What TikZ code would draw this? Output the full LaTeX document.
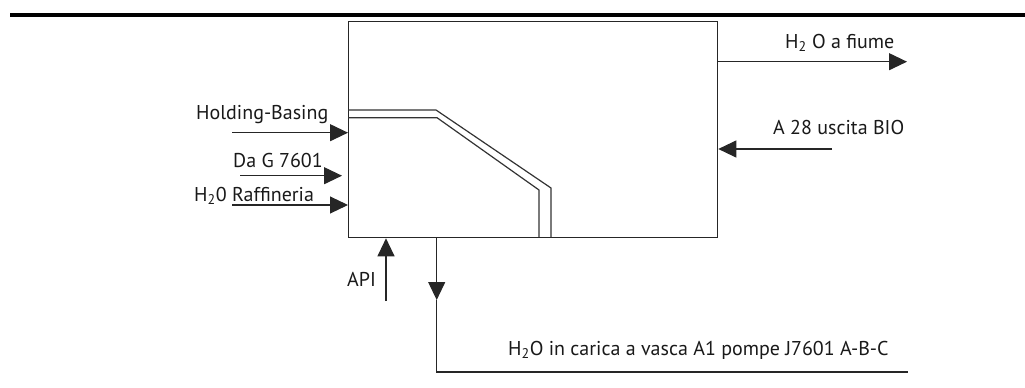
\documentclass[tikz,border=0pt]{standalone}
\usepackage{fontspec}
\setmainfont{PT Sans}
\usetikzlibrary{arrows.meta}
\tikzset{
  ln/.style={line width=1.1pt, draw=black!85},
  arr/.style={ln, -{Triangle[length=18pt,width=17pt]}},
  pipe/.style={line width=1.2pt, draw=black!80},
  lbl/.style={font=\fontsize{20}{22}\selectfont, inner sep=0pt, anchor=base west, text=black!90},
}
\begin{document}
\begin{tikzpicture}[x=1pt,y=-1pt]
\useasboundingbox (0,0) rectangle (1025,388);
% top rule
\coordinate (barL) at (10,15.3);
\coordinate (barR) at (1025,15.3);
\draw[line width=4pt] (barL) -- (barR);
% main box
\node[draw=black!85, line width=1.3pt, minimum width=369pt, minimum height=216pt,
      anchor=north west, inner sep=0pt] (box) at (348,21) {};
% internal double pipe
\coordinate (pa1) at (348,110);
\coordinate (pa2) at (436,110);
\coordinate (pa3) at (551,188);
\coordinate (pa4) at (551,237);
\coordinate (pb1) at (348,117.7);
\coordinate (pb2) at (437,117.7);
\coordinate (pb3) at (539,190);
\coordinate (pb4) at (539,237);
\draw[pipe] (pa1) -- (pa2) -- (pa3) -- (pa4);
\draw[pipe] (pb1) -- (pb2) -- (pb3) -- (pb4);
% left inputs
\coordinate (hbs) at (232,132.7);
\draw[arr] (hbs) -- (hbs -| box.west);
\node[lbl] (hbl) at (196,119) {Holding-Basing};
\coordinate (dgs) at (240,175.7);
\coordinate (dge) at (342,175.7);
\draw[arr] (dgs) -- (dge);
\node[lbl] (dgl) at (233,167) {Da G 7601};
\coordinate (rfs) at (232,205);
\draw[arr] (rfs) -- (rfs -| box.west);
\node[lbl] (rfl) at (194,201) {H\textsubscript{2}0 Raffineria};
% right side
\coordinate (fie) at (907,61.7);
\draw[arr] (fie -| box.east) -- (fie);
\node[lbl] (fil) at (785,48) {H\textsubscript{2} O a fiume};
\coordinate (bios) at (832,149);
\draw[arr] (bios) -- (bios -| box.east);
\node[lbl] (biol) at (773,134) {A 28 uscita BIO};
% bottom
\coordinate (apis) at (386,301);
\draw[arr] (apis) -- (apis |- box.south);
\node[lbl] (apil) at (347,286.5) {API};
\coordinate (o1) at (436.7,237);
\coordinate (o2) at (436.7,300);
\coordinate (o3) at (436.7,372);
\coordinate (o4) at (908,372);
\draw[arr] (o1) -- (o2);
\draw[ln] (o2) -- (o3) -- (o4);
\node[lbl] (outl) at (508,355) {H\textsubscript{2}O in carica a vasca A1 pompe J7601 A-B-C};
\end{tikzpicture}
\end{document}
